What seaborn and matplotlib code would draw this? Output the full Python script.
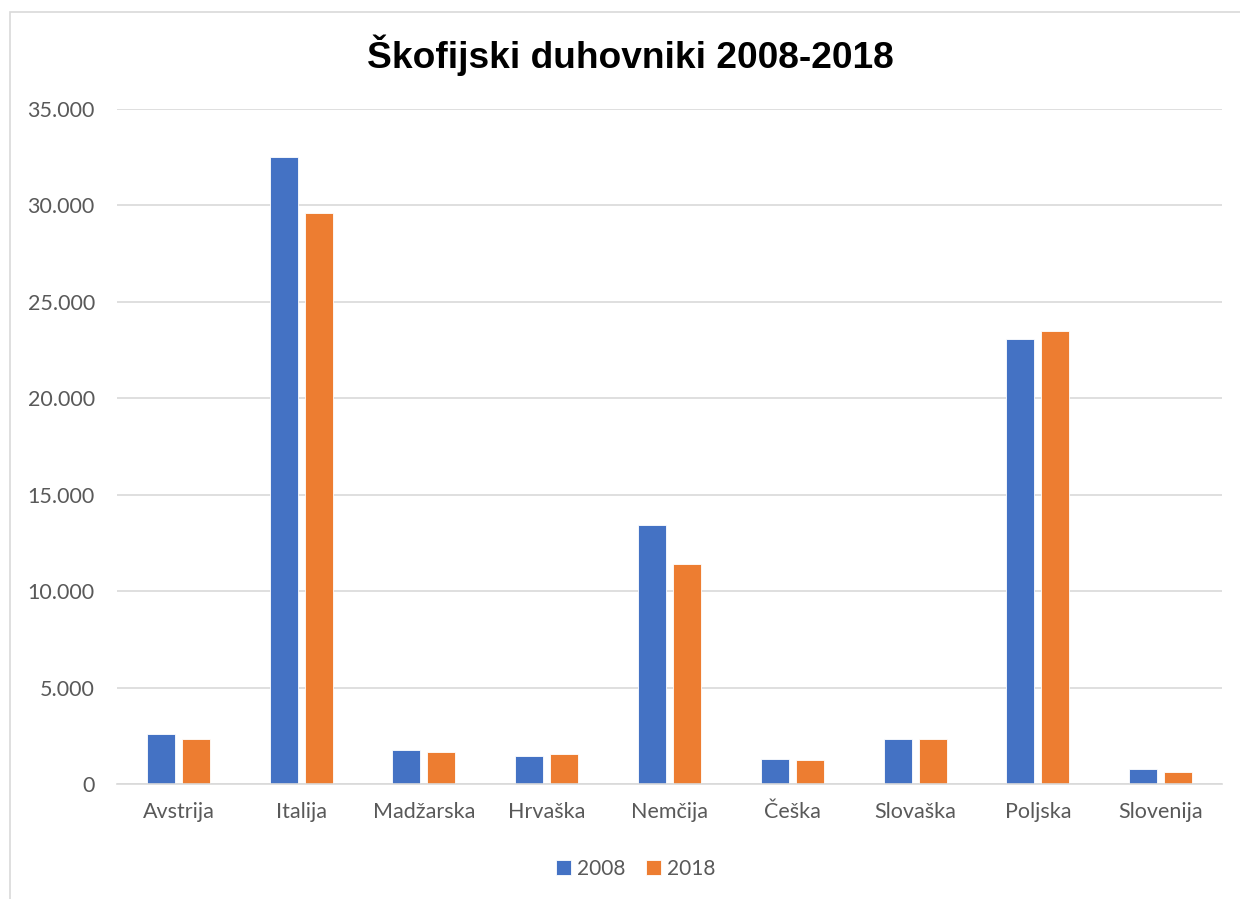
"""
Grouped bar chart of diocesan priests per country, 2008 vs 2018.
"""

import pandas as pd
import seaborn as sns
from matplotlib import pyplot as plt
from matplotlib.patches import Rectangle
from matplotlib.ticker import FuncFormatter, MultipleLocator


# === Data ===

countries = ["Avstrija", "Italija", "Madžarska", "Hrvaška", "Nemčija",
             "Češka", "Slovaška", "Poljska", "Slovenija"]
years = ["2008", "2018"]
priests_2008 = [2580, 32500, 1780, 1470, 13410, 1310, 2340, 23060, 780]
priests_2018 = [2340, 29590, 1680, 1570, 11390, 1250, 2340, 23470, 640]

title = "Škofijski duhovniki 2008-2018"


# === Plot ===

def build_data():
    rows = []
    for year, values in zip(years, [priests_2008, priests_2018]):
        for country, v in zip(countries, values):
            rows.append({"country": country, "year": year, "priests": v})
    return pd.DataFrame(rows)


def thousands(x, pos):
    return f"{int(x):,}".replace(",", ".")


def make_plot(data):
    sns.set_theme(style="white")
    plt.rcParams["font.family"] = ["Lato", "DejaVu Sans"]

    fig = plt.figure(figsize=(12.4, 8.99), dpi=100)
    ax = fig.add_axes([117 / 1240, 1 - 784 / 899, (1222 - 117) / 1240, (784 - 109) / 899])

    sns.barplot(
        data=data, x="country", y="priests", hue="year",
        palette=["#4472C4", "#ED7D31"], saturation=1, width=0.57, gap=0.2,
        edgecolor="white", linewidth=0.6, ax=ax, legend=True,
    )

    ax.set_ylim(0, 35000)
    ax.set_xlim(-0.5, len(countries) - 0.5)
    ax.yaxis.set_major_locator(MultipleLocator(5000))
    ax.yaxis.set_major_formatter(FuncFormatter(thousands))
    ax.grid(axis="y", color="#D9D9D9", linewidth=1.2)
    ax.set_axisbelow(True)
    for side in ["top", "right", "left"]:
        ax.spines[side].set_visible(False)
    ax.spines["bottom"].set_color("#D9D9D9")
    ax.spines["bottom"].set_linewidth(1.2)
    ax.tick_params(axis="both", length=0, labelsize=15.5, labelcolor="#595959")
    ax.tick_params(axis="x", pad=13)
    ax.tick_params(axis="y", pad=16)
    ax.set_xlabel("")
    ax.set_ylabel("")

    fig.text(630 / 1240, 1 - 55 / 899, title, ha="center", va="center",
             fontsize=26.7, fontweight="bold", family="Liberation Sans", color="black")

    ax.legend(
        loc="center", bbox_to_anchor=(636 / 1240, 1 - 869 / 899),
        bbox_transform=fig.transFigure, ncol=2, frameon=False,
        fontsize=15, labelcolor="#595959", handlelength=0.7, handleheight=0.7,
        handletextpad=0.3, columnspacing=1.0,
    )

    fig.patches.append(Rectangle(
        (10 / 1240, -0.05), 1.1, 1 - 12 / 899 + 0.05, transform=fig.transFigure,
        fill=False, edgecolor="#D9D9D9", linewidth=1.2, figure=fig,
    ))

    fig.savefig("out.png", dpi=100)


def main():
    data = build_data()
    make_plot(data)

main()
